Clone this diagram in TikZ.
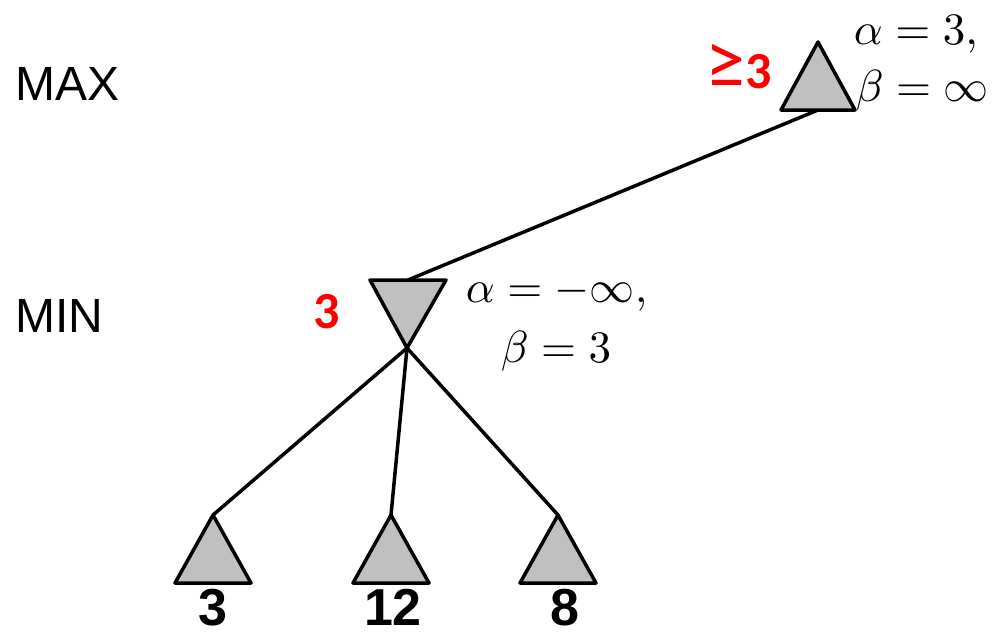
\documentclass[tikz,border=0pt]{standalone}
\usepackage[no-math]{fontspec}
\setmainfont{Liberation Sans}
\newfontfamily\calib{Carlito}
\usetikzlibrary{calc}
\definecolor{trigray}{RGB}{192,192,192}
\definecolor{valred}{RGB}{255,0,0}
\tikzset{
  tri/.style={draw=black, fill=trigray, line width=3.5pt, line join=round},
  edge/.style={draw=black, line width=3.5pt},
  lvl/.style={inner sep=0pt, anchor=base west, font=\fontsize{48}{58}\selectfont},
  leafval/.style={inner sep=0pt, anchor=base, font=\fontsize{52}{62}\selectfont\bfseries},
  redval/.style={inner sep=0pt, anchor=base west, text=valred, font=\fontsize{52}{62}\selectfont\calib\bfseries},
  ab/.style={inner sep=0pt, anchor=base west, font=\normalsize, scale=4.5}
}
\begin{document}
\begin{tikzpicture}[x=1pt, y=-1pt]
\useasboundingbox (0,0) rectangle (1000,634);
% anchor points
\coordinate (maxapex) at (818,42);
\coordinate (maxbase) at (818,110);
\coordinate (mintop) at (408,280);
\coordinate (minapex) at (407,348);
\coordinate (l1) at (213,515);
\coordinate (l2) at (391,515);
\coordinate (l3) at (558,515);
% edges
\draw[edge] (maxbase) -- (mintop);
\draw[edge] (minapex) -- (l1);
\draw[edge] (minapex) -- (l2);
\draw[edge] (minapex) -- (l3);
% triangles
\draw[tri] (781,110) -- (maxapex) -- (855,110) -- cycle;
\draw[tri] (370,280) -- (446,280) -- (minapex) -- cycle;
\draw[tri] ($(l1)+(-38,68)$) -- (l1) -- ($(l1)+(38,68)$) -- cycle;
\draw[tri] ($(l2)+(-38,68)$) -- (l2) -- ($(l2)+(38,68)$) -- cycle;
\draw[tri] ($(l3)+(-38,68)$) -- (l3) -- ($(l3)+(38,68)$) -- cycle;
% level labels
\node[lvl] (maxlbl) at (15,100) {MAX};
\node[lvl] (minlbl) at (15,332) {MIN};
% leaf values
\node[leafval] (v1) at (213,625) {3};
\node[leafval] (v2) at (393,625) {12};
\node[leafval] (v3) at (565,625) {8};
% red values
\node[redval] (rmax) at (705,88) {{\fontsize{80}{90}\selectfont\mdseries ≥}3};
\node[redval] (rmin) at (313,328) {3};
% alpha beta
\node[ab] (amax) at (853,45) {$\alpha = 3,$};
\node[ab] (bmax) at (855,101) {$\beta = \infty$};
\node[ab] (amin) at (465,302) {$\alpha = -\infty,$};
\node[ab] (bmin) at (500,362) {$\beta = 3$};
\end{tikzpicture}
\end{document}
